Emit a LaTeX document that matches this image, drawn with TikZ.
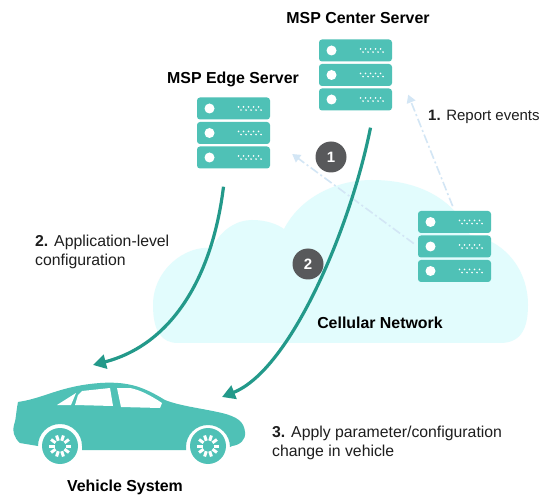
\documentclass[tikz,border=0pt]{standalone}
\usepackage{fontspec}
\setmainfont{Liberation Sans}
\usetikzlibrary{calc,arrows.meta}

\definecolor{rackteal}{HTML}{4FC1B6}
\definecolor{flowteal}{HTML}{23998A}
\definecolor{cloudfill}{HTML}{E2FCFD}
\definecolor{badgegray}{HTML}{58595B}
\definecolor{signalblue}{HTML}{D3E6F5}
\definecolor{labeltext}{HTML}{1E1E1E}

% server rack: #1 name, #2 centre
\newcommand{\rack}[2]{%
  \node[rackframe] (#1) at #2 {};
  \foreach \dy in {-24.5,0,24.5} {
    \fill[rackteal, rounded corners=3pt] ($(#1)+(-36.5,\dy-11)$) rectangle ($(#1)+(36.5,\dy+11)$);
    \fill[white] ($(#1)+(-24,\dy)$) circle (5);
    \foreach \dx in {5,10,...,25} \fill[white] ($(#1)+(\dx,\dy-1.6)$) circle (0.9);
    \foreach \dx in {7.5,12.5,...,27.5} \fill[white] ($(#1)+(\dx,\dy+1.6)$) circle (0.9);
  }
}

\begin{document}
\begin{tikzpicture}[x=1pt, y=-1pt]
  \tikzset{rackframe/.style={inner sep=0, minimum width=73pt, minimum height=71pt}}
  \tikzset{title/.style={font=\fontsize{15.9}{18}\selectfont\bfseries, inner sep=0}}
  \tikzset{steplabel/.style={font=\fontsize{15.8}{19}\selectfont, text=labeltext, align=left, inner sep=0}}
  \tikzset{badge/.style={circle, fill=badgegray, text=white, minimum size=31pt, inner sep=0, font=\fontsize{15}{15}\selectfont\bfseries}}
  \tikzset{flow/.style={draw=flowteal, line width=3.2pt, -{Triangle[length=13pt,width=14pt]}}}
  \tikzset{signal/.style={draw=signalblue, line width=1.6pt, dash pattern=on 9pt off 3pt on 2pt off 3pt, -{Triangle[length=8pt,width=9pt]}}}

  \fill[white] (0,0) rectangle (544,497);
  \useasboundingbox (0,0) rectangle (544,497);

  % cellular network cloud
  \fill[cloudfill] (178,343) .. controls (162,343) and (153,332) .. (153,305)
    .. controls (153,270) and (185,245) .. (212,248)
    .. controls (222,228) and (238,220) .. (252,220)
    .. controls (266,220) and (277,224) .. (284,229)
    .. controls (300,198) and (335,180) .. (372,180)
    .. controls (420,180) and (455,200) .. (470,235)
    .. controls (505,240) and (528,270) .. (528,305)
    .. controls (528,330) and (520,343) .. (500,343) -- cycle;

  \rack{center}{(355.5,75)}
  \rack{edge}{(233.5,133)}
  \rack{local}{(454.5,246.5)}

  \coordinate (centerin) at ($(center.south east)+(16,-16)$);
  \coordinate (edgein) at ($(edge.east)+(22,21)$);
  \coordinate (edgeout) at ($(edge.south)+(-10,18)$);
  \coordinate (centerout) at ($(center.south)+(15,17)$);
  \coordinate (carroof) at (93,365);
  \coordinate (carhood) at (222,397);

  % reports going up from the cell
  \draw[signal, shorten <=5pt] (local.north) -- (centerin);
  \draw[signal, shorten <=5pt] (local.west) -- (edgein);

  % configuration pushed down to the vehicle
  \draw[flow] (edgeout) .. controls (212,280) and (170,345) .. (carroof);
  \draw[flow] (centerout) .. controls (350,230) and (290,370) .. (carhood);

  \node[badge] (one) at (331,157) {1};
  \node[badge] (two) at (308,264) {2};

  % vehicle
  \fill[rackteal] (18,402) .. controls (45,398) and (60,386) .. (100,383)
    .. controls (130,381) and (145,388) .. (165,400)
    .. controls (180,406) and (200,408) .. (222,413)
    .. controls (238,417) and (244,422) .. (245,432)
    .. controls (246,440) and (240,445) .. (232,446)
    -- (230,447) arc[start angle=0, end angle=-180, radius=22]
    -- (186,450) -- (82,450) -- (82,446) arc[start angle=0, end angle=-180, radius=22]
    -- (20,443) .. controls (14,438) and (12,430) .. (14,425)
    .. controls (16,420) and (16,412) .. (18,402) -- cycle;
  \fill[white] (57,405) -- (76,393) -- (71,405) -- cycle;
  \fill[white] (75,405) -- (78,395) -- (82,391) -- (110,388) -- (113,406) -- cycle;
  \fill[white] (117,388) -- (121,407) -- (160,408) -- (162,403)
    .. controls (150,395) and (140,390) .. (130,388) -- cycle;
  \foreach \wx in {60,208} {
    \fill[rackteal] (\wx,446) circle (18);
    \foreach \a in {0,36,...,324}
      \draw[white, line width=3pt] ($(\wx,446)+(\a:5.5)$) -- ($(\wx,446)+(\a:11)$);
  }

  \node[title] (centertitle) at (358,18) {MSP Center Server};
  \node[title] (edgetitle) at (233,79) {MSP Edge Server};
  \node[title] (celltitle) at (380,323) {Cellular Network};
  \node[title] (cartitle) at (125,487) {Vehicle System};

  \node[steplabel, anchor=west, font=\fontsize{15}{19}\selectfont] (report) at (428,117) {\textbf{1.} Report events};
  \node[steplabel, anchor=north west] (applevel) at (35,235) {\textbf{2.} Application-level\\configuration};
  \node[steplabel, anchor=north west] (apply) at (272,426) {\textbf{3.} Apply parameter/configuration\\change in vehicle};
\end{tikzpicture}
\end{document}
